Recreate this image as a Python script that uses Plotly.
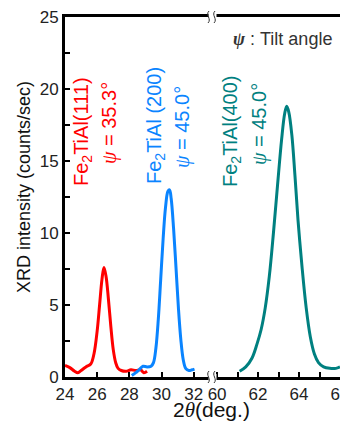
import plotly.graph_objects as go

# ---- data ----
red_x = [24.0, 24.3, 24.6, 24.8, 25.0, 25.3, 25.6, 25.8, 26.0, 26.15, 26.3, 26.42, 26.55, 26.7, 26.85, 27.0, 27.15, 27.3, 27.5, 27.8, 28.1, 28.4, 28.7, 28.9, 29.1]
red_y = [0.8, 0.65, 0.4, 0.3, 0.45, 0.7, 0.9, 1.6, 3.2, 5.0, 6.8, 7.6, 7.0, 5.4, 3.5, 1.9, 1.0, 0.6, 0.45, 0.4, 0.5, 0.45, 0.5, 0.3, 0.4]

blue_x = [28.15, 28.4, 28.6, 28.85, 29.1, 29.35, 29.5, 29.65, 29.8, 29.95, 30.1, 30.25, 30.4, 30.5, 30.6, 30.75, 30.9, 31.05, 31.2, 31.35, 31.5, 31.7, 31.9, 32.05]
blue_y = [0.1, 0.3, 0.5, 0.75, 0.7, 0.75, 1.0, 2.0, 4.0, 6.8, 9.6, 11.8, 12.9, 13.0, 12.4, 10.3, 7.6, 4.8, 2.6, 1.2, 0.6, 0.45, 0.5, 0.55]

teal_x = [61.1, 61.4, 61.7, 61.95, 62.15, 62.35, 62.55, 62.75, 62.95, 63.15, 63.3, 63.4, 63.5, 63.65, 63.8, 63.95, 64.15, 64.35, 64.55, 64.75, 64.95, 65.2, 65.5, 65.8, 66.0]
teal_y = [0.4, 0.7, 1.3, 2.3, 3.3, 4.8, 7.0, 10.0, 13.3, 16.5, 18.3, 18.8, 18.4, 16.8, 14.0, 10.9, 7.6, 4.8, 2.8, 1.6, 1.0, 0.7, 0.6, 0.6, 0.7]

left_ticks = [24, 26, 28, 30, 32]
right_ticks = [60, 62, 64, 66]
y_ticks = [0, 5, 10, 15, 20, 25]

RED = "#ff0000"
BLUE = "#0a84ff"
TEAL = "#008080"
FONT = "Liberation Sans, Arial, sans-serif"
SERIF = "Liberation Serif, Times New Roman, serif"

# page has an 8px body margin: the figure starts at (8, 8) in the window
OFF = 8
W, H = 340, 415
# plot area in window pixels
L, R, T, B = 65, 340, 17, 377


def px(xp):
    return (xp - L) / (R - L)


def py(yp):
    return (B - yp) / (B - T)


split = px(213)
PSI = f'<span style="font-family:{SERIF}"><i>ψ</i></span>'

fig = go.Figure()
fig.add_trace(go.Scatter(x=red_x, y=red_y, mode="lines", line=dict(color=RED, width=3, shape="spline"),
                         xaxis="x", yaxis="y", showlegend=False))
fig.add_trace(go.Scatter(x=blue_x, y=blue_y, mode="lines", line=dict(color=BLUE, width=3, shape="spline"),
                         xaxis="x", yaxis="y", showlegend=False))
fig.add_trace(go.Scatter(x=teal_x, y=teal_y, mode="lines", line=dict(color=TEAL, width=3, shape="spline"),
                         xaxis="x2", yaxis="y2", showlegend=False))

axis_common = dict(showgrid=False, zeroline=False, showline=True, linecolor="black",
                   ticks="inside", tickcolor="black", tickwidth=1.5, ticklen=5,
                   ticklabeloverflow="allow",
                   tickfont=dict(family=FONT, size=17, color="#222"))

fig.update_layout(
    width=W, height=H,
    margin=dict(l=L - OFF, r=W - (R - OFF), t=T - OFF, b=H - (B - OFF), autoexpand=False),
    paper_bgcolor="white", plot_bgcolor="white",
    font=dict(family=FONT),
    xaxis=dict(domain=[0, split], range=[24, 33.2], tickvals=left_ticks, linewidth=3, mirror=True,
               **axis_common),
    xaxis2=dict(domain=[split, 1], range=[59.8, 66], tickvals=right_ticks, anchor="y2", linewidth=3,
                mirror=True,
                minor=dict(dtick=1, tick0=60, ticks="inside", ticklen=5, tickcolor="black", tickwidth=1.5),
                **axis_common),
    yaxis=dict(domain=[0, 1], range=[0, 25], tickvals=y_ticks, linewidth=3, ticklabelstandoff=0,
               minor=dict(dtick=2.5, ticks="inside", ticklen=5, tickcolor="black", tickwidth=1.5),
               **axis_common),
    yaxis2=dict(domain=[0, 1], range=[0, 25], anchor="x2", side="right", showticklabels=False,
                showgrid=False, zeroline=False, showline=True, linecolor="black", linewidth=3, ticks=""),
)

annotations = [
    dict(text="XRD intensity (counts/sec)", x=px(24), y=py(187), textangle=-90,
         font=dict(size=18, color="#111")),
    dict(text=f'2<span style="font-family:{SERIF}"><i>θ</i></span>(deg.)', x=px(211), y=py(410.5),
         font=dict(size=21, color="#111")),
    dict(text=f"<b>{PSI}</b> : Tilt angle", x=px(334), y=py(39), xanchor="right",
         font=dict(size=18, color="#333")),
    dict(text="Fe<sub>2</sub>TiAl(111)", x=px(83), y=py(132), textangle=-90, font=dict(size=20, color=RED)),
    dict(text=f"{PSI} = 35.3°", x=px(110), y=py(123), textangle=-90, font=dict(size=20, color=RED)),
    dict(text="Fe<sub>2</sub>TiAl (200)", x=px(155), y=py(126), textangle=-90, font=dict(size=20, color=BLUE)),
    dict(text=f"{PSI} = 45.0°", x=px(182), y=py(127), textangle=-90, font=dict(size=20, color=BLUE)),
    dict(text="Fe<sub>2</sub>TiAl(400)", x=px(231), y=py(131), textangle=-90, font=dict(size=20, color=TEAL)),
    dict(text=f"{PSI} = 45.0°", x=px(259), y=py(124), textangle=-90, font=dict(size=20, color=TEAL)),
]
for a in annotations:
    a.update(xref="paper", yref="paper", showarrow=False)
    a.setdefault("xanchor", "center")
    a.setdefault("yanchor", "middle")
fig.update_layout(annotations=annotations)

# axis-break marks (top and bottom)
shapes = []
for yc in (T, B):
    shapes.append(dict(type="rect", xref="paper", yref="paper",
                       x0=px(208.5), x1=px(216.5), y0=py(yc + 3), y1=py(yc - 3),
                       fillcolor="white", line=dict(width=0), layer="above"))
    for off in (0, 6):
        x0 = 208 + off
        path = (f"M {px(x0)},{py(yc + 6)} C {px(x0 + 4)},{py(yc + 2)} {px(x0 - 3)},{py(yc - 2)} "
                f"{px(x0 + 1)},{py(yc - 6)}")
        shapes.append(dict(type="path", xref="paper", yref="paper", path=path,
                           line=dict(color="#333", width=1), layer="above"))
fig.update_layout(shapes=shapes)

fig.write_html("out.html")
